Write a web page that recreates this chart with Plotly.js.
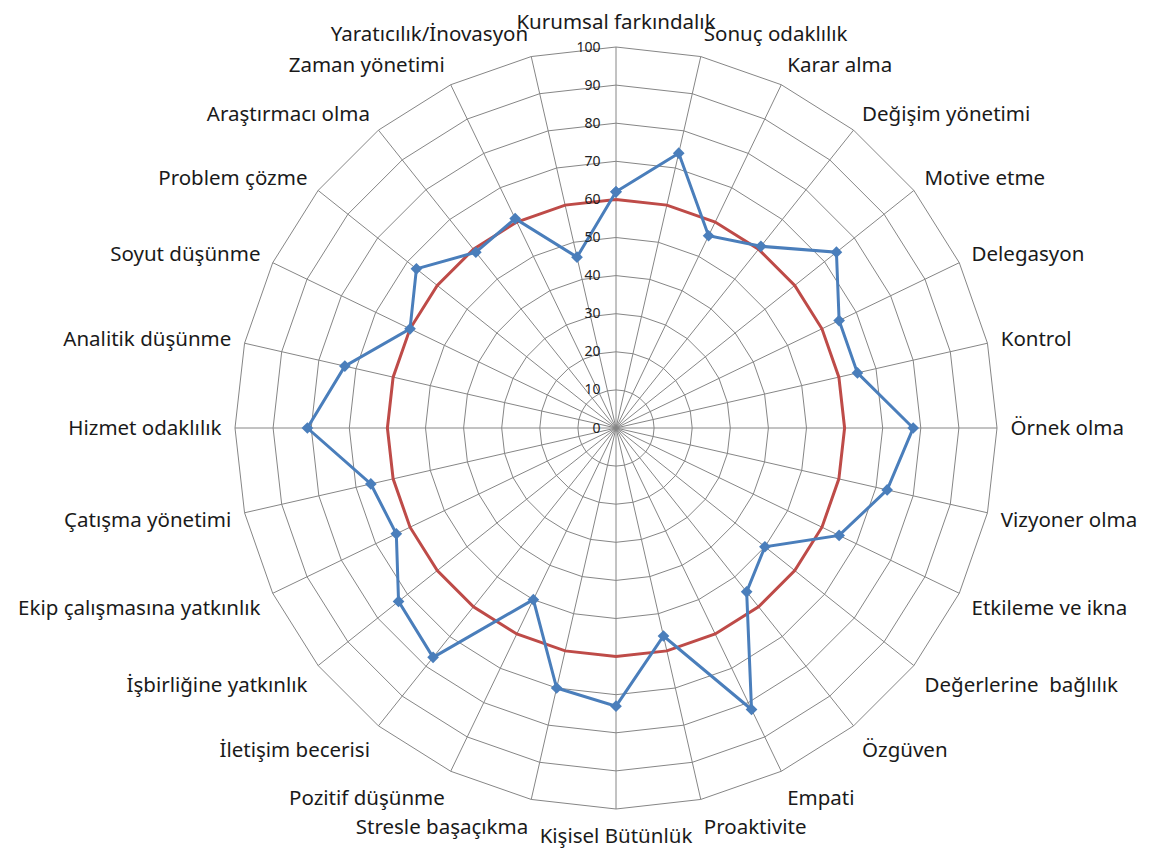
<!DOCTYPE html>
<html>
<head>
<meta charset="utf-8">
<script src="https://cdn.plot.ly/plotly-3.0.1.min.js"></script>
<style>html,body{margin:0;padding:0;background:#fff;}#chart{width:1156px;height:859px;}</style>
</head>
<body>
<div id="chart"></div>
<script>
const categories = ["Kurumsal farkındalık","Sonuç odaklılık","Karar alma","Değişim yönetimi","Motive etme","Delegasyon","Kontrol","Örnek olma","Vizyoner olma","Etkileme ve ikna","Değerlerine  bağlılık","Özgüven","Empati","Proaktivite","Kişisel Bütünlük","Stresle başaçıkma","Pozitif düşünme","İletişim becerisi","İşbirliğine yatkınlık","Ekip çalışmasına yatkınlık","Çatışma yönetimi","Hizmet odaklılık","Analitik düşünme","Soyut düşünme","Problem çözme","Araştırmacı olma","Zaman yönetimi","Yaratıcılık/İnovasyon"];
const actualValues = [62,74,56,61,74,65,65,78,73,65,50,55,82,56,73,70,50,77,73,64,66,81,73,60,67,59,61,46];
const targetValues = [60,60,60,60,60,60,60,60,60,60,60,60,60,60,60,60,60,60,60,60,60,60,60,60,60,60,60,60];
const radialTicks = [0,10,20,30,40,50,60,70,80,90,100];

function closeLoop(a){ return a.concat([a[0]]); }

const traces = [
  {type:'scatterpolar', mode:'lines', r:closeLoop(targetValues), theta:closeLoop(categories),
   line:{color:'#BE4B48', width:3}, name:'Hedef', hoverinfo:'skip'},
  {type:'scatterpolar', mode:'lines+markers', r:closeLoop(actualValues), theta:closeLoop(categories),
   line:{color:'#4A7EBB', width:3}, marker:{symbol:'diamond', size:9, color:'#4A7EBB'}, name:'Gerçekleşen'}
];

const layout = {
  width:1156, height:859,
  margin:{l:235, r:159, t:47, b:50},
  paper_bgcolor:'#fff',
  showlegend:false,
  font:{family:'Noto Sans, sans-serif', color:'#1a1a1a'},
  polar:{
    bgcolor:'#fff',
    gridshape:'linear',
    angularaxis:{
      rotation:90, direction:'clockwise',
      showline:true, linecolor:'#868686', linewidth:1,
      gridcolor:'#868686', gridwidth:1,
      ticks:'outside', ticklen:9, tickcolor:'rgba(0,0,0,0)',
      tickfont:{size:20.5, family:'Noto Sans, sans-serif', color:'#1a1a1a'}
    },
    radialaxis:{
      range:[0,100], tickvals:radialTicks, ticktext:radialTicks.map(String),
      angle:90, tickangle:90, side:'counterclockwise',
      showline:false, ticks:'outside', ticklen:10, tickcolor:'rgba(0,0,0,0)',
      gridcolor:'#868686', gridwidth:1,
      tickfont:{size:14, color:'#222'}
    }
  }
};

Plotly.newPlot('chart', traces, layout, {displayModeBar:false});
</script>
</body>
</html>
